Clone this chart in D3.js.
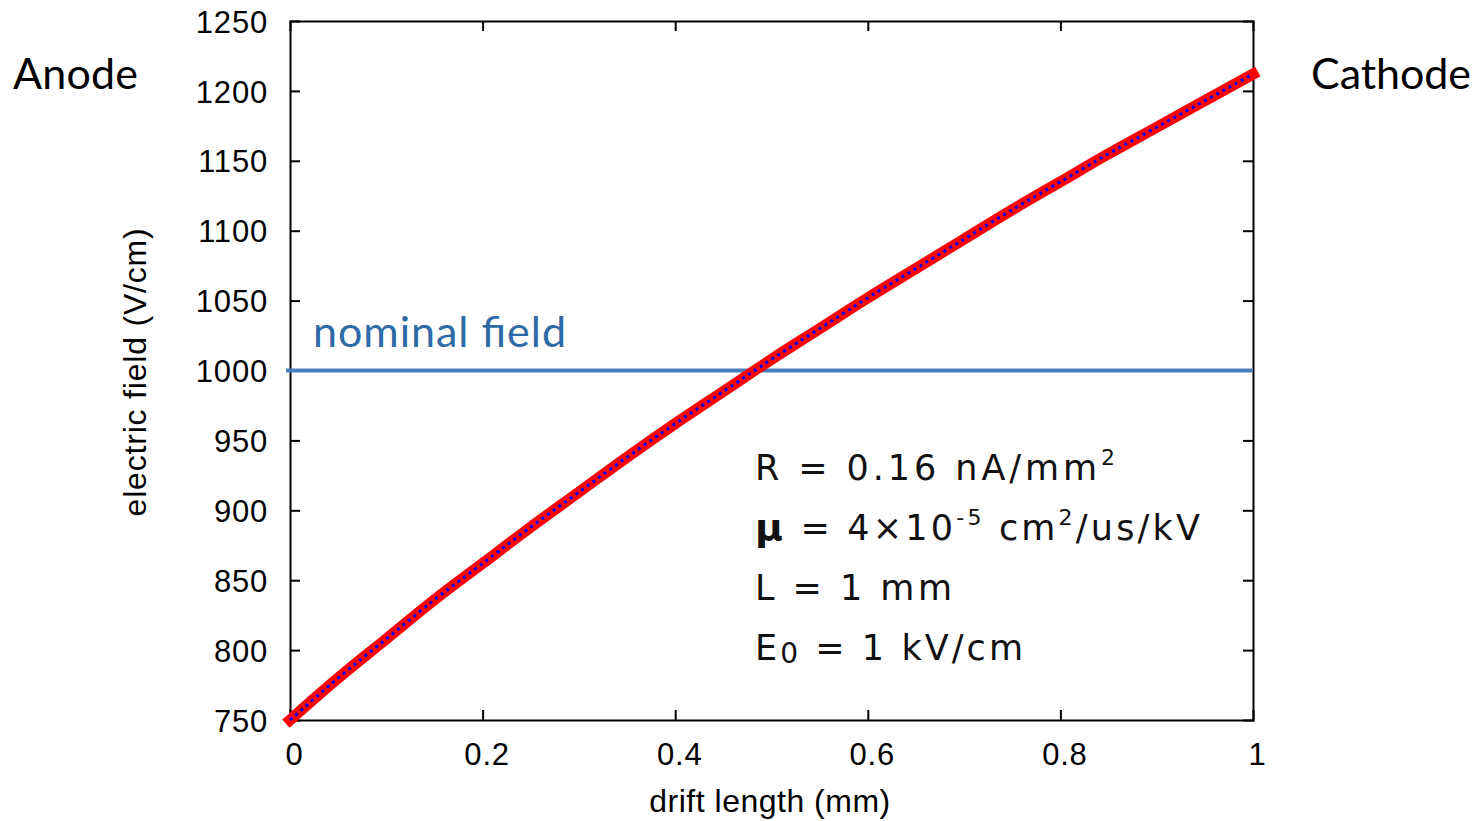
<!DOCTYPE html>
<html>
<head>
<meta charset="utf-8">
<script src="https://cdn.jsdelivr.net/npm/d3@7"></script>
<style>
  html, body { margin: 0; padding: 0; background: #fff; }
  svg { display: block; }
</style>
</head>
<body>
<svg id="chart" width="1483" height="821"></svg>
<script>
// ---- data ----
const driftLength = [0, 0.05, 0.1, 0.15, 0.2, 0.25, 0.3, 0.35, 0.4, 0.45, 0.5,
                     0.55, 0.6, 0.65, 0.7, 0.75, 0.8, 0.85, 0.9, 0.95, 1.0];
const electricField = [750, 780, 808, 836, 862, 888, 913, 938, 962, 985, 1008,
                       1030, 1052, 1073, 1094, 1115, 1135, 1155, 1174, 1193, 1212];
const nominalField = 1000;
const xTicks = [0, 0.2, 0.4, 0.6, 0.8, 1];
const xTickLabels = ["0", "0.2", "0.4", "0.6", "0.8", "1"];
const yTicks = [750, 800, 850, 900, 950, 1000, 1050, 1100, 1150, 1200, 1250];
const xDomain = [0, 1];
const yDomain = [750, 1250];

(function () {
// ---- layout ----
const svg = d3.select("#chart");
const mLeft = 290, mRight = 1253, mTop = 21, mBottom = 720;

const x = d3.scaleLinear().domain(xDomain).range([mLeft, mRight]);
const y = d3.scaleLinear().domain(yDomain).range([mBottom, mTop]);

const tickFont = "'Liberation Sans', Arial, Helvetica, sans-serif";
const tickSize = 10;

// Axes (inward ticks, mirrored)
const axB = svg.append("g").attr("transform", `translate(0,${mBottom})`)
  .call(d3.axisBottom(x).tickValues(xTicks).tickSize(-tickSize).tickPadding(23)
        .tickFormat((d, i) => xTickLabels[i]));
const axT = svg.append("g").attr("transform", `translate(0,${mTop})`)
  .call(d3.axisTop(x).tickValues(xTicks).tickSize(-tickSize).tickFormat(""));
const axL = svg.append("g").attr("transform", `translate(${mLeft},0)`)
  .call(d3.axisLeft(y).tickValues(yTicks).tickSize(-tickSize).tickPadding(22)
        .tickFormat(d3.format("d")));
const axR = svg.append("g").attr("transform", `translate(${mRight},0)`)
  .call(d3.axisRight(y).tickValues(yTicks).tickSize(-tickSize).tickFormat(""));

[axB, axT, axL, axR].forEach(g => {
  g.select(".domain").attr("stroke", "#000").attr("stroke-width", 2);
  g.selectAll(".tick line").attr("stroke", "#000").attr("stroke-width", 2);
  g.selectAll(".tick text").attr("font-family", tickFont).attr("font-size", 31)
    .attr("letter-spacing", 0.8).attr("fill", "#000");
});
axB.selectAll(".tick text").attr("dy", "0.71em").attr("dx", 4);
axL.selectAll(".tick text").attr("dy", "0.36em");
// hide ticks at the box corners
axB.selectAll(".tick line").filter(d => d === 0 || d === 1).attr("display", "none");
axT.selectAll(".tick line").filter(d => d === 0 || d === 1).attr("display", "none");
axL.selectAll(".tick line").filter(d => d === 750 || d === 1250).attr("display", "none");
axR.selectAll(".tick line").filter(d => d === 750 || d === 1250).attr("display", "none");

// Axis titles
svg.append("text")
  .attr("x", 770).attr("y", 812)
  .attr("text-anchor", "middle")
  .attr("font-family", tickFont).attr("font-size", 32).attr("letter-spacing", 0.5)
  .attr("fill", "#000")
  .text("drift length (mm)");
svg.append("text")
  .attr("transform", `translate(146,${372}) rotate(-90)`)
  .attr("text-anchor", "middle")
  .attr("font-family", tickFont).attr("font-size", 32).attr("letter-spacing", 0.8)
  .attr("fill", "#000")
  .text("electric field (V/cm)");

// Nominal field line
svg.append("line")
  .attr("x1", mLeft - 4).attr("x2", mRight)
  .attr("y1", y(nominalField)).attr("y2", y(nominalField))
  .attr("stroke", "#4a7ebb").attr("stroke-width", 4);
svg.append("text")
  .attr("x", 313).attr("y", 347)
  .attr("font-family", "Lato, 'Open Sans', sans-serif").attr("font-size", 43)
  .attr("textLength", 253).attr("lengthAdjust", "spacing")
  .attr("fill", "#2e6aa6")
  .text("nominal field");

// Curve
const pts = driftLength.map((d, i) => [d, electricField[i]]);
const line = d3.line().x(d => x(d[0])).y(d => y(d[1])).curve(d3.curveMonotoneX);
svg.append("path").datum(pts)
  .attr("d", line).attr("fill", "none")
  .attr("stroke", "#ff0000").attr("stroke-width", 11).attr("stroke-linecap", "square");
svg.append("path").datum(pts)
  .attr("d", line).attr("fill", "none")
  .attr("stroke", "#0000ff").attr("stroke-width", 3).attr("stroke-dasharray", "3,4");

// Anode / Cathode
const labFont = "Lato, 'Open Sans', sans-serif";
svg.append("text").attr("x", 13).attr("y", 89)
  .attr("font-family", labFont).attr("font-size", 43)
  .attr("textLength", 125).attr("lengthAdjust", "spacing")
  .attr("fill", "#000").text("Anode");
svg.append("text").attr("x", 1311).attr("y", 89)
  .attr("font-family", labFont).attr("font-size", 43)
  .attr("textLength", 160).attr("lengthAdjust", "spacing")
  .attr("fill", "#000").text("Cathode");

// Parameter annotation
const annFont = "'DejaVu Sans', Verdana, sans-serif";
const ann = svg.append("g").attr("font-family", annFont).attr("font-size", 35)
  .attr("fill", "#111");
const t1 = ann.append("text").attr("x", 755).attr("y", 480)
  .attr("textLength", 360).attr("lengthAdjust", "spacing");
t1.append("tspan").text("R = 0.16 nA/mm");
t1.append("tspan").attr("dy", -15).attr("font-size", 22).text("2");
const t2 = ann.append("text").attr("x", 755).attr("y", 540)
  .attr("textLength", 445).attr("lengthAdjust", "spacing");
t2.append("tspan").attr("font-weight", "bold").attr("font-size", 38).text("μ");
t2.append("tspan").text(" = 4×10");
t2.append("tspan").attr("dy", -15).attr("font-size", 22).text("-5");
t2.append("tspan").attr("dy", 15).text(" cm");
t2.append("tspan").attr("dy", -15).attr("font-size", 22).text("2");
t2.append("tspan").attr("dy", 15).text("/us/kV");
ann.append("text").attr("x", 755).attr("y", 600)
  .attr("textLength", 197).attr("lengthAdjust", "spacing").text("L = 1 mm");
const t4 = ann.append("text").attr("x", 755).attr("y", 660)
  .attr("textLength", 268).attr("lengthAdjust", "spacing");
t4.append("tspan").text("E");
t4.append("tspan").attr("font-size", 28).attr("dy", 3).text("0");
t4.append("tspan").attr("dy", -3).text(" = 1 kV/cm");
})();
</script>
</body>
</html>
